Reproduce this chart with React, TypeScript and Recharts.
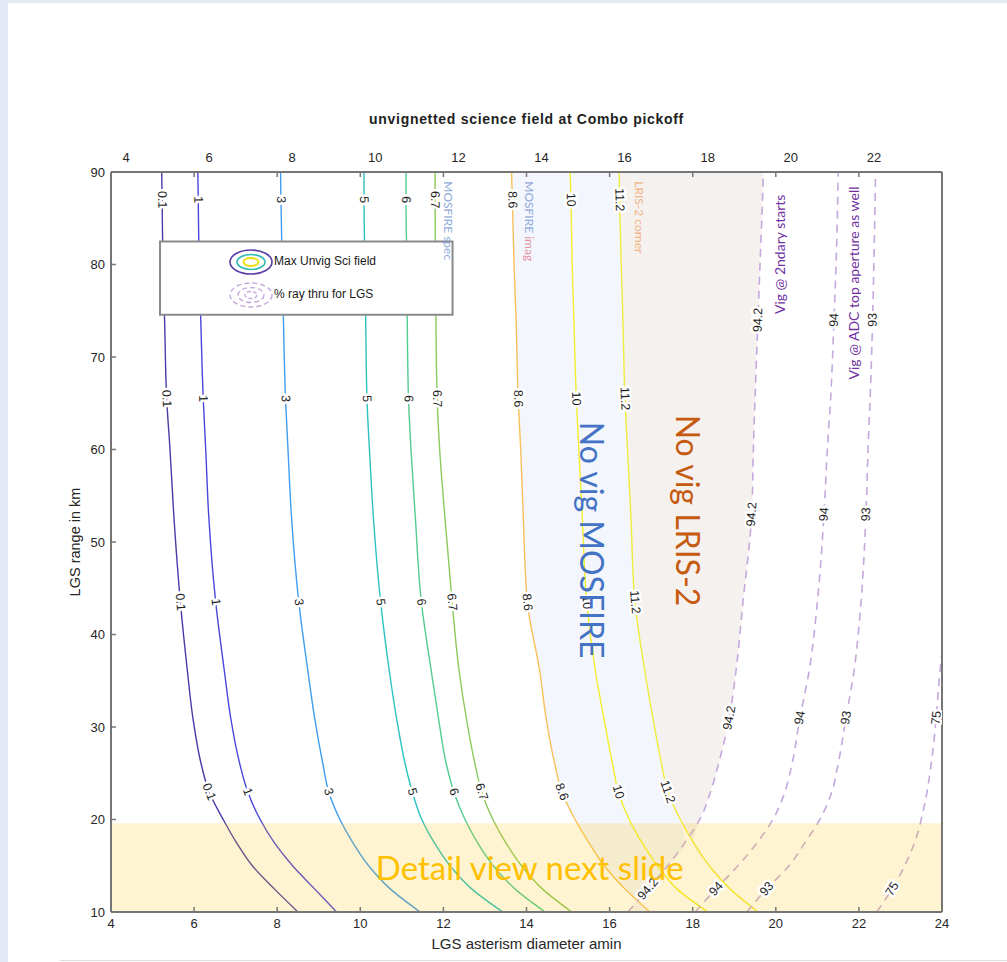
import React from 'react';
import {
  ComposedChart,
  Line,
  Area,
  XAxis,
  YAxis,
  ReferenceArea,
  ReferenceDot,
  Label,
  Legend
} from 'recharts';

// range levels (km) at which every contour is sampled, bottom to top
const Y_LEVELS = [10, 12.5, 15, 17.5, 20, 23, 26, 31, 36, 43.5, 53, 60, 65.5, 74, 80, 87, 90];

// asterism diameter (amin) of each contour at those levels
const C_01 = [8.5, 7.93, 7.4, 7.02, 6.7, 6.36, 6.17, 5.97, 5.84, 5.67, 5.51, 5.42, 5.34, 5.29, 5.25, 5.23, 5.22];
const C_1 = [9.43, 8.9, 8.37, 7.93, 7.59, 7.29, 7.1, 6.88, 6.73, 6.52, 6.35, 6.28, 6.22, 6.16, 6.12, 6.1, 6.09];
const C_3 = [11.44, 10.72, 10.2, 9.82, 9.51, 9.24, 9.1, 8.9, 8.74, 8.52, 8.34, 8.26, 8.2, 8.15, 8.12, 8.09, 8.08];
const C_5 = [13.43, 12.68, 12.16, 11.78, 11.48, 11.25, 11.08, 10.87, 10.7, 10.49, 10.31, 10.22, 10.16, 10.13, 10.11, 10.09, 10.09];
const C_6 = [14.45, 13.72, 13.2, 12.82, 12.52, 12.25, 12.07, 11.88, 11.71, 11.47, 11.32, 11.22, 11.16, 11.13, 11.12, 11.1, 11.1];
const C_67 = [15.09, 14.38, 13.88, 13.5, 13.19, 12.92, 12.76, 12.55, 12.38, 12.21, 12.03, 11.91, 11.85, 11.82, 11.81, 11.8, 11.8];
const C_86 = [16.97, 16.37, 15.87, 15.5, 15.17, 14.85, 14.68, 14.47, 14.32, 14.02, 13.92, 13.86, 13.8, 13.75, 13.7, 13.66, 13.64];
const C_10 = [18.37, 17.62, 17.15, 16.78, 16.47, 16.21, 16.07, 15.86, 15.66, 15.45, 15.34, 15.26, 15.2, 15.14, 15.1, 15.07, 15.05];
const C_112 = [19.57, 18.9, 18.4, 18.02, 17.7, 17.4, 17.25, 17.04, 16.85, 16.61, 16.51, 16.43, 16.37, 16.32, 16.28, 16.24, 16.23];

// % ray thru for LGS (dashed)
const D_942 = [16.44, 16.92, 17.4, 17.81, 18.17, 18.43, 18.62, 18.88, 19.04, 19.21, 19.42, 19.46, 19.5, 19.57, 19.62, 19.68, 19.7];
const D_94 = [18.06, 18.56, 19.09, 19.55, 19.93, 20.22, 20.39, 20.58, 20.8, 21.0, 21.16, 21.24, 21.32, 21.4, 21.45, 21.49, 21.5];
const D_93 = [19.3, 19.78, 20.32, 20.7, 21.06, 21.35, 21.5, 21.69, 21.88, 22.05, 22.17, 22.22, 22.27, 22.33, 22.36, 22.39, 22.4];
const D_75 = [22.43, 22.8, 23.1, 23.34, 23.5, 23.64, 23.74, 23.86, 23.95, 24.15, null, null, null, null, null, null, null];

const X_TICKS = [4, 6, 8, 10, 12, 14, 16, 18, 20, 22, 24];
const Y_TICKS = [10, 20, 30, 40, 50, 60, 70, 80, 90];
const CB_TICKS = [0, 1, 2, 3, 4, 5, 6, 7, 8, 9, 10];

// which sample rows carry a contour label
const SOLID_LABEL_ROWS = [5, 9, 12, 15];
const DASHED_LABEL_ROWS = [1, 7, 10, 13];

const LEGEND_ITEMS = ['Max Unvig Sci field', '% ray thru for LGS'];

const SOLID = [
  { key: 'c01', name: '0.1', values: C_01, color: '#4a3aa8' },
  { key: 'c1', name: '1', values: C_1, color: '#4a46dc' },
  { key: 'c3', name: '3', values: C_3, color: '#3f9cf0' },
  { key: 'c5', name: '5', values: C_5, color: '#2cc2c0' },
  { key: 'c6', name: '6', values: C_6, color: '#52cc92' },
  { key: 'c67', name: '6.7', values: C_67, color: '#8cca5c' },
  { key: 'c86', name: '8.6', values: C_86, color: '#f8c05a' },
  { key: 'c10', name: '10', values: C_10, color: '#f2ee2c' },
  { key: 'c112', name: '11.2', values: C_112, color: '#eeec3c' }
];

const DASHED = [
  { key: 'd942', name: '94.2', values: D_942 },
  { key: 'd94', name: '94', values: D_94 },
  { key: 'd93', name: '93', values: D_93 },
  { key: 'd75', name: '75', values: D_75 }
];

const NOTES = [
  { text: 'MOSFIRE spec', x: 12.13, y: 89, color: '#8faadc', size: 12, angle: 90, anchor: 'start' },
  { text: 'MOSFIRE', tail: ' imag', x: 14.08, y: 89, color: '#8faadc', size: 12, angle: 90, anchor: 'start' },
  { text: 'LRIS-2 corner', x: 16.73, y: 89, color: '#f4b183', size: 12, angle: 90, anchor: 'start' },
  { text: 'Vig @ 2ndary starts', x: 20.08, y: 81.1, color: '#7030a0', size: 14, angle: -90, anchor: 'middle' },
  { text: 'Vig @ ADC top aperture as well', x: 21.86, y: 78, color: '#7030a0', size: 14, angle: -90, anchor: 'middle' },
  { text: 'No vig MOSFIRE', x: 15.58, y: 50.2, color: '#4472c4', size: 32, angle: 90, anchor: 'middle' },
  { text: 'No vig LRIS-2', x: 17.89, y: 53.4, color: '#c55a11', size: 32, angle: 90, anchor: 'middle' },
  { text: 'Detail view next slide', x: 14.08, y: 14.84, color: '#ffc000', size: 33, angle: 0, anchor: 'middle' }
];

const W = 1007;
const H = 962;
const MARGIN = { top: 142, right: 64, bottom: 10, left: 71 };
const PLOT_W = W - MARGIN.left - MARGIN.right - 40 - 1;
const PLOT_H = H - MARGIN.top - MARGIN.bottom - 30 - 40;
const PX_X = PLOT_W / 20;
const PX_Y = PLOT_H / 80;

const AXIS = '#767676';
const DASH = '#c6a8dc';

const rows = Y_LEVELS.map((y, i) => {
  const row: any = { y };
  SOLID.forEach((s) => (row[s.key] = s.values[i]));
  DASHED.forEach((s) => (row[s.key] = s.values[i]));
  row.mosfire = [C_86[i], Math.min(C_112[i], D_942[i])];
  row.lris = [C_112[i], Math.max(C_112[i], D_942[i])];
  return row;
});

// contour label drawn along the line (clabel style)
const makeLabelDot = (name: string, values: (number | null)[], labelRows: number[]) => (props: any) => {
  const { cx, cy, index } = props;
  if (!labelRows.includes(index) || cx == null || cy == null) return null;
  const prev = values[index - 1];
  const next = values[index + 1];
  if (prev == null || next == null) return null;
  const dx = (next - prev) * PX_X;
  const dy = -(Y_LEVELS[index + 1] - Y_LEVELS[index - 1]) * PX_Y;
  let a = (Math.atan2(dy, dx) * 180) / Math.PI;
  if (a > 90) a -= 180;
  if (a < -90) a += 180;
  return (
    <text
      key={`lbl-${name}-${index}`}
      x={cx}
      y={cy}
      transform={`rotate(${a.toFixed(1)} ${cx} ${cy})`}
      textAnchor="middle"
      dominantBaseline="central"
      fontSize={12.5}
      fontFamily="'Liberation Sans', Arial, sans-serif"
      fill="#1e1e1e"
      stroke="#ffffff"
      strokeWidth={5}
      strokeLinejoin="round"
      paintOrder="stroke"
    >
      {name}
    </text>
  );
};

const TopTick = (props: any) => {
  const { x, y, payload } = props;
  if (payload.value === 24) return null;
  return (
    <text x={x + 15} y={y} textAnchor="middle" fontSize={13} fill="#262626">
      {payload.value}
    </text>
  );
};

const noteShape = (n: any) => (props: any) => {
  const { cx, cy } = props;
  return (
    <text
      x={cx}
      y={cy}
      transform={n.angle ? `rotate(${n.angle} ${cx} ${cy})` : undefined}
      textAnchor={n.anchor}
      dominantBaseline="central"
      fontSize={n.size}
      fontFamily="Lato, 'Open Sans', sans-serif"
      fill={n.color}
    >
      {n.text}
      {n.tail ? <tspan fill="#e4939f">{n.tail}</tspan> : null}
    </text>
  );
};

function LegendItems() {
  return (
    <div
      style={{
        position: 'relative',
        width: 293,
        height: 73,
        fontFamily: "'Liberation Sans', Arial, sans-serif",
        fontSize: 12,
        color: '#1a1a1a'
      }}
    >
      <svg width={46} height={28} style={{ position: 'absolute', left: 68, top: 6 }}>
        <ellipse cx={23} cy={14} rx={21} ry={12} fill="none" stroke="#5a3ea8" strokeWidth={1.6} />
        <ellipse cx={23} cy={14} rx={14} ry={7.5} fill="none" stroke="#2ebcb2" strokeWidth={1.6} />
        <ellipse cx={23} cy={14} rx={7.5} ry={4} fill="none" stroke="#ece018" strokeWidth={2} />
      </svg>
      <div style={{ position: 'absolute', left: 114, top: 12 }}>{LEGEND_ITEMS[0]}</div>
      <svg width={46} height={28} style={{ position: 'absolute', left: 68, top: 39 }}>
        <ellipse cx={23} cy={14} rx={21} ry={12} fill="none" stroke={DASH} strokeWidth={1.4} strokeDasharray="5 3" />
        <ellipse cx={23} cy={14} rx={13} ry={7.5} fill="none" stroke={DASH} strokeWidth={1.4} strokeDasharray="5 3" />
        <ellipse cx={23} cy={14} rx={6} ry={3.5} fill="none" stroke={DASH} strokeWidth={1.4} strokeDasharray="4 2" />
      </svg>
      <div style={{ position: 'absolute', left: 114, top: 45 }}>{LEGEND_ITEMS[1]}</div>
    </div>
  );
}

export default function App() {
  return (
    <div
      style={{
        position: 'absolute',
        left: 0,
        top: 0,
        width: W,
        height: H,
        background: '#e3e9f5',
        overflow: 'hidden',
        fontFamily: "'Liberation Sans', Arial, sans-serif"
      }}
    >
      <div style={{ position: 'absolute', left: 8, top: 3, right: 0, bottom: 0, background: '#fff' }} />
      <div style={{ position: 'absolute', left: 60, right: 0, top: 960, height: 1, background: '#dcdcdc' }} />

      <div style={{ position: 'absolute', left: 0, top: 0 }}>
        <ComposedChart layout="vertical" width={W} height={H} data={rows} margin={MARGIN}>
          <XAxis
            type="number"
            domain={[4, 24]}
            ticks={X_TICKS}
            allowDataOverflow
            height={40}
            tickSize={-5}
            tickMargin={12}
            axisLine={{ stroke: AXIS, strokeWidth: 2 }}
            tickLine={{ stroke: AXIS, strokeWidth: 1.5 }}
            tick={{ fontSize: 13, fill: '#262626' }}
          >
            <Label value="LGS asterism diameter amin" position="insideBottom" offset={3} fontSize={15} fill="#262626" />
          </XAxis>
          <XAxis
            xAxisId="top"
            orientation="top"
            type="number"
            domain={[4, 24]}
            ticks={X_TICKS}
            allowDataOverflow
            height={30}
            tickSize={-5}
            tickMargin={15}
            axisLine={{ stroke: AXIS, strokeWidth: 2 }}
            tickLine={{ stroke: AXIS, strokeWidth: 1.5 }}
            tick={TopTick}
          >
            <Label
              value="unvignetted science field at Combo pickoff"
              position="top"
              offset={18}
              fontSize={14}
              fontWeight={700}
              letterSpacing={0.7}
              fill="#1e1e1e"
            />
          </XAxis>
          <YAxis
            type="number"
            dataKey="y"
            domain={[10, 90]}
            ticks={Y_TICKS}
            reversed
            allowDataOverflow
            width={40}
            tickSize={-5}
            tickMargin={11}
            axisLine={{ stroke: AXIS, strokeWidth: 2 }}
            tickLine={{ stroke: AXIS, strokeWidth: 1.5 }}
            tick={{ fontSize: 13, fill: '#262626' }}
          >
            <Label
              value="LGS range in km"
              angle={-90}
              position="insideLeft"
              offset={4}
              fontSize={14.5}
              fill="#262626"
              style={{ textAnchor: 'middle' }}
            />
          </YAxis>
          <YAxis
            yAxisId="right"
            orientation="right"
            type="number"
            domain={[10, 90]}
            ticks={Y_TICKS}
            reversed
            width={1}
            tick={false}
            tickSize={-5}
            axisLine={{ stroke: AXIS, strokeWidth: 2 }}
            tickLine={{ stroke: AXIS, strokeWidth: 1.5 }}
          />

          <Area
            dataKey="mosfire"
            type="monotone"
            stroke="none"
            fill="#f3f6fc"
            fillOpacity={1}
            isAnimationActive={false}
            activeDot={false}
          />
          <Area
            dataKey="lris"
            type="monotone"
            stroke="none"
            fill="#f5f1ee"
            fillOpacity={1}
            isAnimationActive={false}
            activeDot={false}
          />

          {SOLID.map((s) => (
            <Line
              key={s.key}
              dataKey={s.key}
              type="monotone"
              stroke={s.color}
              strokeWidth={1.4}
              dot={makeLabelDot(s.name, s.values, SOLID_LABEL_ROWS)}
              activeDot={false}
              isAnimationActive={false}
            />
          ))}
          {DASHED.map((s) => (
            <Line
              key={s.key}
              dataKey={s.key}
              type="monotone"
              stroke={DASH}
              strokeWidth={1.6}
              strokeDasharray="8 6"
              dot={makeLabelDot(s.name, s.values, DASHED_LABEL_ROWS)}
              activeDot={false}
              isAnimationActive={false}
            />
          ))}

          <ReferenceArea
            x1={4}
            x2={24}
            y1={10}
            y2={19.6}
            fill="#ffc000"
            fillOpacity={0.18}
            stroke="none"
            zIndex={450}
          />

          {/* legend frame, drawn in the plot so the MOSFIRE note can sit over its edge */}
          <ReferenceArea
            x1={5.18}
            x2={12.22}
            y1={74.58}
            y2={82.48}
            fill="#ffffff"
            fillOpacity={1}
            stroke="#8a8a8a"
            strokeWidth={2}
            zIndex={460}
          />

          {NOTES.map((n) => (
            <ReferenceDot key={n.text} x={n.x} y={n.y} r={0} shape={noteShape(n)} zIndex={2100} />
          ))}

          <Legend
            layout="vertical"
            align="center"
            verticalAlign="middle"
            wrapperStyle={{ left: 160, top: 242, width: 293, height: 73 }}
            content={() => <LegendItems />}
          />
        </ComposedChart>
      </div>

      <div style={{ position: 'absolute', left: 947, top: 0 }}>
        <ComposedChart width={60} height={H} data={[{ v: 0 }]} margin={{ top: 172, right: 0, bottom: 50, left: 15 }}>
          <defs>
            <linearGradient id="parula" x1="0" y1="1" x2="0" y2="0">
              <stop offset="0%" stopColor="#33289c" />
              <stop offset="10%" stopColor="#3a36d0" />
              <stop offset="20%" stopColor="#4052e6" />
              <stop offset="30%" stopColor="#2f7ee8" />
              <stop offset="40%" stopColor="#1b9ed8" />
              <stop offset="50%" stopColor="#18b6bf" />
              <stop offset="60%" stopColor="#48c596" />
              <stop offset="70%" stopColor="#8ac858" />
              <stop offset="80%" stopColor="#d2b62e" />
              <stop offset="90%" stopColor="#fcbe36" />
              <stop offset="100%" stopColor="#f7f80f" />
            </linearGradient>
          </defs>
          <XAxis type="number" domain={[0, 1]} hide />
          <YAxis
            type="number"
            orientation="right"
            domain={[0, 10]}
            ticks={CB_TICKS}
            width={22}
            tickSize={-7}
            tickMargin={13}
            axisLine={false}
            tickLine={{ stroke: '#3a3a3a', strokeWidth: 1.2 }}
            tick={{ fontSize: 10.5, fill: '#333', textAnchor: 'start' }}
          />
          <ReferenceArea x1={0} x2={1} y1={0} y2={10} fill="url(#parula)" fillOpacity={1} stroke="#3c3c3c" strokeWidth={1.5} />
        </ComposedChart>
      </div>
    </div>
  );
}
